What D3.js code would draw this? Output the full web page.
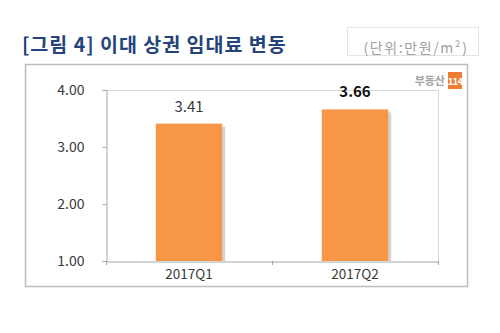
<!DOCTYPE html>
<html>
<head>
<meta charset="utf-8">
<script src="https://cdn.jsdelivr.net/npm/d3@7"></script>
<style>
  html, body { margin: 0; padding: 0; background: #fff; }
  svg { display: block; }
</style>
</head>
<body>
<svg id="chart" width="500" height="333"></svg>
<script>
// Rent data (10,000 KRW per m²)
const categories = ["2017Q1", "2017Q2"];
const rents = [3.41, 3.66];
const yTicks = [1, 2, 3, 4];
const boldLabel = [false, true];

const svg = d3.select("#chart");
const font = "'Noto Sans CJK KR', 'Noto Sans', sans-serif";

// Title
svg.append("text")
  .attr("x", 22).attr("y", 52)
  .attr("font-family", font).attr("font-size", 19.5).attr("font-weight", 700)
  .attr("letter-spacing", 1)
  .attr("fill", "#24437a")
  .text("[그림 4] 이대 상권 임대료 변동");

// Unit box
svg.append("rect")
  .attr("x", 347.5).attr("y", 27.5).attr("width", 131).attr("height", 28)
  .attr("fill", "#fff").attr("stroke", "#e4e4e4");
svg.append("text")
  .attr("x", 416).attr("y", 53)
  .attr("text-anchor", "middle")
  .attr("font-family", font).attr("font-size", 14)
  .attr("letter-spacing", 1.6)
  .attr("fill", "#a0a0a0")
  .text("(단위:만원/m²)");

// Outer frame
svg.append("rect")
  .attr("x", 25.5).attr("y", 64.5).attr("width", 442).attr("height", 222)
  .attr("fill", "none").attr("stroke", "#bdbdbd").attr("stroke-width", 1.5);

// Logo
svg.append("text")
  .attr("x", 445).attr("y", 85).attr("text-anchor", "end")
  .attr("font-family", font).attr("font-size", 11).attr("font-weight", 700)
  .attr("fill", "#a3a3a3")
  .text("부동산");
svg.append("rect")
  .attr("x", 448).attr("y", 72).attr("width", 14).attr("height", 17)
  .attr("fill", "#ee7d31");
svg.append("text")
  .attr("x", 455).attr("y", 85).attr("text-anchor", "middle")
  .attr("font-family", font).attr("font-size", 9.5).attr("font-weight", 700)
  .attr("letter-spacing", -0.8)
  .attr("fill", "#fff")
  .text("114");

// Plot area
const plot = { left: 106, right: 438, top: 90, bottom: 261 };
const x = d3.scaleBand().domain(categories).range([plot.left, plot.right]).paddingInner(0).paddingOuter(0);
const y = d3.scaleLinear().domain([1, 4]).range([plot.bottom, plot.top]);
const barW = x.bandwidth() * 0.4;

const g = svg.append("g");

// Top gridline and right border of plot area
g.append("line")
  .attr("x1", plot.left).attr("x2", plot.right)
  .attr("y1", y(4) + 0.5).attr("y2", y(4) + 0.5)
  .attr("stroke", "#d9d9d9");
g.append("line")
  .attr("x1", plot.right + 0.5).attr("x2", plot.right + 0.5)
  .attr("y1", plot.top).attr("y2", plot.bottom)
  .attr("stroke", "#d9d9d9");

// Bar shadows
g.selectAll("rect.shadow").data(rents).join("rect")
  .attr("class", "shadow")
  .attr("x", (d, i) => x(categories[i]) + (x.bandwidth() - barW) / 2 + 3)
  .attr("y", d => y(d) + 3)
  .attr("width", barW)
  .attr("height", d => y(1) - y(d) - 3)
  .attr("fill", "#c9c9c9")
  .attr("opacity", 0.8);

// Bars
g.selectAll("rect.bar").data(rents).join("rect")
  .attr("class", "bar")
  .attr("x", (d, i) => x(categories[i]) + (x.bandwidth() - barW) / 2)
  .attr("y", d => y(d))
  .attr("width", barW)
  .attr("height", d => y(1) - y(d))
  .attr("fill", "#f79646");

// Y axis
const yAxis = g.append("g")
  .attr("transform", `translate(${plot.left + 0.5},0)`)
  .call(d3.axisLeft(y).tickValues(yTicks).tickFormat(d3.format(".2f")).tickSize(4).tickPadding(18));
yAxis.select(".domain").attr("stroke", "#a6a6a6");
yAxis.selectAll(".tick line").attr("stroke", "#a6a6a6");
yAxis.selectAll(".tick text")
  .attr("font-family", font).attr("font-size", 14).attr("fill", "#3a3a3a");

// X axis
const xAxis = g.append("g")
  .attr("transform", `translate(0,${plot.bottom + 0.5})`)
  .call(d3.axisBottom(x).tickSize(0).tickPadding(8));
xAxis.select(".domain").attr("stroke", "#a6a6a6");
xAxis.selectAll(".tick text")
  .attr("font-family", font).attr("font-size", 13.5).attr("fill", "#3a3a3a");
// Category boundary ticks
const bounds = [plot.left, x(categories[1]), plot.right];
g.selectAll("line.bound").data(bounds).join("line")
  .attr("class", "bound")
  .attr("x1", d => d + 0.5).attr("x2", d => d + 0.5)
  .attr("y1", plot.bottom).attr("y2", plot.bottom + 4)
  .attr("stroke", "#a6a6a6");

// Value labels
g.selectAll("text.val").data(rents).join("text")
  .attr("class", "val")
  .attr("x", (d, i) => x(categories[i]) + x.bandwidth() / 2)
  .attr("y", d => y(d) - 12)
  .attr("text-anchor", "middle")
  .attr("font-family", font)
  .attr("font-size", 15)
  .attr("font-weight", (d, i) => boldLabel[i] ? 700 : 400)
  .attr("fill", (d, i) => boldLabel[i] ? "#111" : "#3a3a3a")
  .text(d => d.toFixed(2));
</script>
</body>
</html>
